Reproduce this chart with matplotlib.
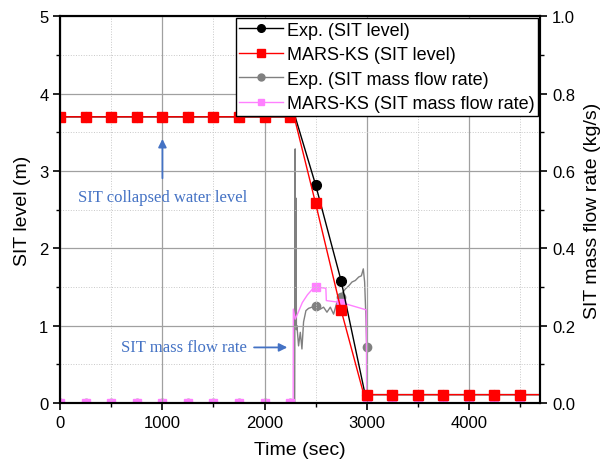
import matplotlib
matplotlib.use("Agg")
import matplotlib.pyplot as plt
from matplotlib.lines import Line2D
from matplotlib.ticker import MultipleLocator

plt.rcParams['font.family'] = ['Liberation Sans', 'DejaVu Sans']

# SIT level (m) - lines
t_exp_lvl = [0, 2300, 2500, 2750, 2985, 4700]
y_exp_lvl = [3.7, 3.7, 2.82, 1.58, 0.11, 0.11]
t_mars_lvl = [0, 2290, 2500, 2750, 2970, 3000, 4700]
y_mars_lvl = [3.7, 3.7, 2.58, 1.20, 0.12, 0.11, 0.11]

# marker samples every 250 s
t_mk = [0, 250, 500, 750, 1000, 1250, 1500, 1750, 2000, 2250,
        2500, 2750, 3000, 3250, 3500, 3750, 4000, 4250, 4500]
exp_lvl_mk = [3.7] * 10 + [2.82, 1.58] + [0.11] * 7
mars_lvl_mk = [3.7] * 10 + [2.58, 1.20] + [0.11] * 7
exp_flow_mk = [0] * 10 + [0.25, 0.275, 0.145] + [0] * 6
mars_flow_mk = [0] * 10 + [0.30, 0.26] + [0] * 7

# SIT mass flow rate (kg/s) - lines
t_exp_flow = [0, 2295, 2300, 2303, 2307, 2312, 2317, 2333, 2350, 2366, 2382,
              2405, 2431, 2464, 2503, 2546, 2578, 2611, 2644, 2676, 2709,
              2742, 2791, 2824, 2856, 2889, 2922, 2948, 2967, 2980, 2993,
              3000, 3000, 4700]
y_exp_flow = [0, 0, 0.657, 0.20, 0.53, 0.19, 0.20, 0.148, 0.183, 0.14, 0.21,
              0.239, 0.245, 0.248, 0.252, 0.243, 0.248, 0.235, 0.248, 0.230, 0.261,
              0.278, 0.295, 0.303, 0.313, 0.317, 0.326, 0.329, 0.347, 0.313, 0.217,
              0.145, 0, 0]
t_mars_flow = [0, 2280, 2282, 2300, 2330, 2370, 2420, 2470, 2500, 2600, 2605,
               2750, 2996, 3000, 4700]
y_mars_flow = [0, 0, 0.243, 0.217, 0.235, 0.26, 0.28, 0.295, 0.30, 0.297, 0.265,
               0.26, 0.241, 0, 0]

fig = plt.figure(figsize=(6, 4.64), dpi=100)
ax1 = fig.add_axes([0.1005, 0.129, 0.8, 0.834])
ax2 = ax1.twinx()

ax1.set_zorder(2)
ax1.patch.set_visible(False)

c_exp, c_mars, c_expf, c_marsf = 'black', '#ff0000', '#808080', '#ff80ff'

ax2.plot(t_exp_flow, y_exp_flow, color=c_expf, lw=1.0)
ax2.plot(t_mk, exp_flow_mk, 'o', color=c_expf, ms=6, ls='none')
ax2.plot(t_mars_flow, y_mars_flow, color=c_marsf, lw=1.0)
ax2.plot(t_mk, mars_flow_mk, 's', color=c_marsf, ms=6, ls='none')

ax1.plot(t_exp_lvl, y_exp_lvl, color=c_exp, lw=1.0)
ax1.plot(t_mk, exp_lvl_mk, 'o', color=c_exp, ms=7, ls='none')
ax1.plot(t_mars_lvl, y_mars_lvl, color=c_mars, lw=1.0)
ax1.plot(t_mk, mars_lvl_mk, 's', color=c_mars, ms=6.5, ls='none')

ax1.set_xlim(0, 4700)
ax1.set_ylim(0, 5)
ax2.set_ylim(0, 1.0)

ax1.xaxis.set_major_locator(MultipleLocator(1000))
ax1.xaxis.set_minor_locator(MultipleLocator(500))
ax1.yaxis.set_major_locator(MultipleLocator(1))
ax1.yaxis.set_minor_locator(MultipleLocator(0.5))
ax2.yaxis.set_major_locator(MultipleLocator(0.2))
ax2.yaxis.set_minor_locator(MultipleLocator(0.1))
ax2.yaxis.set_major_formatter(plt.FormatStrFormatter('%.1f'))

ax1.grid(which='major', color='#a0a0a0', lw=0.9, ls='-')
ax1.grid(which='minor', color='#c8c8c8', lw=0.7, ls=':')

for ax in (ax1, ax2):
    for s in ax.spines.values():
        s.set_linewidth(1.5)
    ax.tick_params(which='major', length=5, width=1.2, labelsize=12, direction='out')
    ax.tick_params(which='minor', length=3, width=1.0, direction='out')

ax1.set_xlabel('Time (sec)', fontsize=14, labelpad=8)
ax1.set_ylabel('SIT level (m)', fontsize=14, labelpad=6)
ax2.set_ylabel('SIT mass flow rate (kg/s)', fontsize=14, labelpad=6)

blue = '#4472c4'
ax1.annotate('', xy=(1000, 3.45), xytext=(1000, 2.87),
             arrowprops=dict(arrowstyle='-|>', color=blue, lw=1.3, mutation_scale=12))
ax1.text(1000, 2.66, 'SIT collapsed water level', family='Liberation Serif',
         fontsize=12, color=blue, ha='center', va='center')
ax1.annotate('', xy=(2250, 0.72), xytext=(1870, 0.72),
             arrowprops=dict(arrowstyle='-|>', color=blue, lw=1.3, mutation_scale=12))
ax1.text(1830, 0.72, 'SIT mass flow rate', family='Liberation Serif',
         fontsize=12, color=blue, ha='right', va='center')

handles = [
    Line2D([], [], color=c_exp, marker='o', ms=5.5, lw=1.0),
    Line2D([], [], color=c_mars, marker='s', ms=5.5, lw=1.0),
    Line2D([], [], color=c_expf, marker='o', ms=5, lw=1.0),
    Line2D([], [], color=c_marsf, marker='s', ms=5, lw=1.0),
]
labels = ['Exp. (SIT level)', 'MARS-KS (SIT level)',
          'Exp. (SIT mass flow rate)', 'MARS-KS (SIT mass flow rate)']
leg = ax1.legend(handles, labels, loc='upper right', fontsize=13,
                 frameon=True, fancybox=False, edgecolor='black',
                 borderaxespad=0.1, handlelength=2.4, handletextpad=0.25,
                 labelspacing=0.42, borderpad=0.2)
leg.get_frame().set_linewidth(1.0)
leg.get_frame().set_alpha(1)

fig.savefig('out.png', dpi=100)
